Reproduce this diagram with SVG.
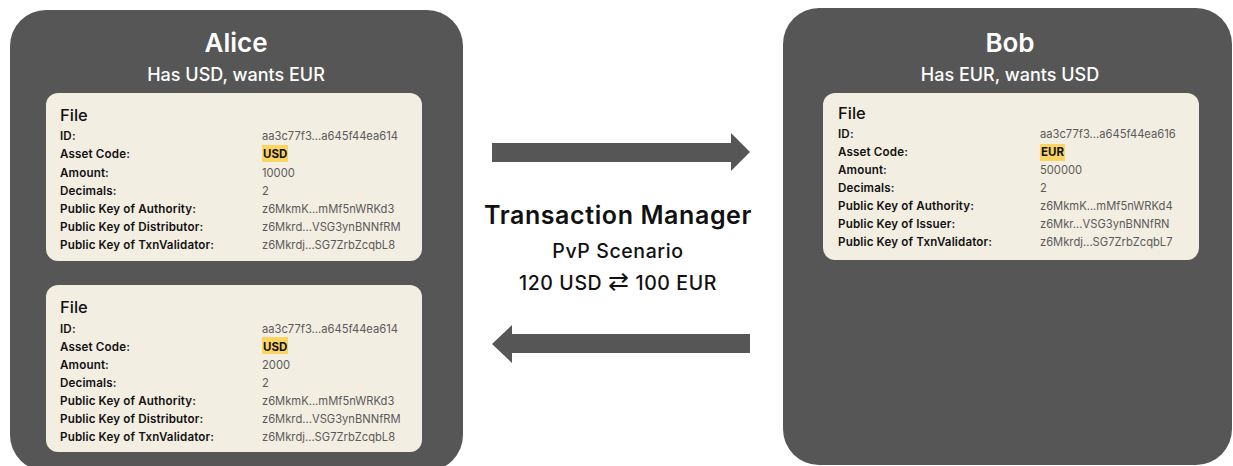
<svg xmlns="http://www.w3.org/2000/svg" width="1233" height="466" viewBox="0 0 1233 466">
  <style>
    .panel { fill: #565656; }
    .card { fill: #f3eee2; }
    .hl { fill: #fcd462; }
    .name { font-family: Inter, "Liberation Sans", sans-serif; font-weight: 600; font-size: 26px; fill: #ffffff; text-anchor: middle; }
    .sub { font-family: Inter, "Liberation Sans", sans-serif; font-weight: 500; font-size: 18px; fill: #ffffff; text-anchor: middle; }
    .ftitle { font-family: Inter, "Liberation Sans", sans-serif; font-weight: 500; font-size: 16.5px; fill: #111111; }
    .lbl { font-family: Inter, "Liberation Sans", sans-serif; font-weight: 600; font-size: 11.6px; fill: #111111; letter-spacing: 0.15px; }
    .val { font-family: Inter, "Liberation Sans", sans-serif; font-weight: 400; font-size: 11.2px; fill: #5a5a5a; }
    .code { font-family: Inter, "Liberation Sans", sans-serif; font-weight: 700; font-size: 11.5px; fill: #111111; }
    .tm { font-family: Inter, "Liberation Sans", sans-serif; font-weight: 600; font-size: 25px; letter-spacing: 0.6px; fill: #111111; text-anchor: middle; }
    .tms { font-family: Inter, "Liberation Sans", sans-serif; font-weight: 500; font-size: 19.5px; letter-spacing: 0.6px; fill: #111111; text-anchor: middle; }
    .arrow { fill: #565656; }
  </style>

  <!-- Alice -->
  <g id="alice">
    <rect class="panel" x="10" y="10" width="453" height="461" rx="36"/>
    <text class="name" x="236" y="52">Alice</text>
    <text class="sub" x="236" y="81">Has USD, wants EUR</text>

    <g id="alice-file-1">
      <rect class="card" x="46" y="93" width="376" height="168" rx="12"/>
      <text class="ftitle" x="60" y="121">File</text>
      <rect class="hl" x="262" y="145" width="26" height="17"/>
      <g class="lbl">
        <text x="60" y="140">ID:</text>
        <text x="60" y="158">Asset Code:</text>
        <text x="60" y="177">Amount:</text>
        <text x="60" y="195">Decimals:</text>
        <text x="60" y="213">Public Key of Authority:</text>
        <text x="60" y="231">Public Key of Distributor:</text>
        <text x="60" y="249">Public Key of TxnValidator:</text>
      </g>
      <text class="val" x="262" y="140">aa3c77f3...a645f44ea614</text>
      <text class="code" x="263" y="158">USD</text>
      <text class="val" x="262" y="177">10000</text>
      <text class="val" x="262" y="195">2</text>
      <text class="val" x="262" y="213">z6MkmK...mMf5nWRKd3</text>
      <text class="val" x="262" y="231">z6Mkrd...VSG3ynBNNfRM</text>
      <text class="val" x="262" y="249">z6Mkrdj...SG7ZrbZcqbL8</text>
    </g>

    <g id="alice-file-2">
      <rect class="card" x="46" y="285" width="376" height="167" rx="12"/>
      <text class="ftitle" x="60" y="313">File</text>
      <rect class="hl" x="262" y="337" width="26" height="17"/>
      <g class="lbl">
        <text x="60" y="333">ID:</text>
        <text x="60" y="351">Asset Code:</text>
        <text x="60" y="369">Amount:</text>
        <text x="60" y="387">Decimals:</text>
        <text x="60" y="405">Public Key of Authority:</text>
        <text x="60" y="423">Public Key of Distributor:</text>
        <text x="60" y="441">Public Key of TxnValidator:</text>
      </g>
      <text class="val" x="262" y="333">aa3c77f3...a645f44ea614</text>
      <text class="code" x="263" y="351">USD</text>
      <text class="val" x="262" y="369">2000</text>
      <text class="val" x="262" y="387">2</text>
      <text class="val" x="262" y="405">z6MkmK...mMf5nWRKd3</text>
      <text class="val" x="262" y="423">z6Mkrd...VSG3ynBNNfRM</text>
      <text class="val" x="262" y="441">z6Mkrdj...SG7ZrbZcqbL8</text>
    </g>
  </g>

  <!-- Bob -->
  <g id="bob">
    <rect class="panel" x="783" y="8" width="449" height="457" rx="36"/>
    <text class="name" x="1010" y="52">Bob</text>
    <text class="sub" x="1010" y="81">Has EUR, wants USD</text>

    <g id="bob-file">
      <rect class="card" x="823" y="93" width="376" height="167" rx="12"/>
      <text class="ftitle" x="838" y="119">File</text>
      <rect class="hl" x="1040" y="144" width="25" height="17"/>
      <g class="lbl">
        <text x="838" y="138">ID:</text>
        <text x="838" y="156">Asset Code:</text>
        <text x="838" y="174">Amount:</text>
        <text x="838" y="192">Decimals:</text>
        <text x="838" y="210">Public Key of Authority:</text>
        <text x="838" y="228">Public Key of Issuer:</text>
        <text x="838" y="246">Public Key of TxnValidator:</text>
      </g>
      <text class="val" x="1040" y="138">aa3c77f3...a645f44ea616</text>
      <text class="code" x="1041" y="156">EUR</text>
      <text class="val" x="1040" y="174">500000</text>
      <text class="val" x="1040" y="192">2</text>
      <text class="val" x="1040" y="210">z6MkmK...mMf5nWRKd4</text>
      <text class="val" x="1040" y="228">z6Mkr...VSG3ynBNNfRN</text>
      <text class="val" x="1040" y="246">z6Mkrdj...SG7ZrbZcqbL7</text>
    </g>
  </g>

  <!-- Transaction manager label -->
  <g id="transaction-manager">
    <text class="tm" x="618" y="224">Transaction Manager</text>
    <text class="tms" x="618" y="258">PvP Scenario</text>
    <text class="tms" x="618" y="290" font-size="20.5px" letter-spacing="0.9px">120 USD <tspan font-size="25px" font-weight="300">⇄</tspan> 100 EUR</text>
  </g>

  <!-- Connectors: block arrows between the two parties -->
  <g id="connectors">
    <polygon class="arrow" points="492,143 731,143 731,133 750,152 731,171 731,162 492,162"/>
    <polygon class="arrow" points="750,334 512,334 512,325 492,344 512,363 512,353 750,353"/>
  </g>
</svg>
